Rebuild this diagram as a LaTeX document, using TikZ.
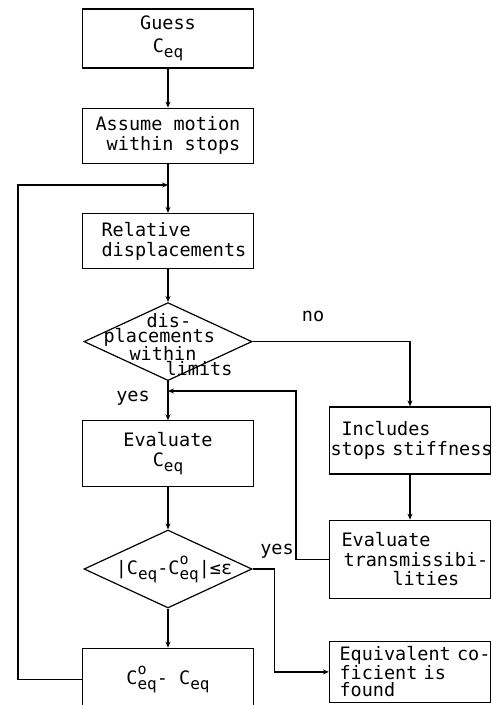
\documentclass[tikz,border=0pt]{standalone}
\usepackage{fontspec}
\setmainfont{DejaVu Sans Mono}
\usetikzlibrary{arrows.meta}
\usetikzlibrary{shapes}
\usetikzlibrary{positioning}

\newcommand\lowsub[1]{\raisebox{-5pt}{\fontsize{16}{16}\selectfont #1}}
\newcommand\highsup[1]{\rlap{\raisebox{10pt}{\fontsize{15}{15}\selectfont #1}}}

\begin{document}
\begin{tikzpicture}[x=1pt,y=-1pt]
  \tikzstyle{every path}=[line width=1.2pt]

  \edef\boxwidth{171pt}
  \edef\sidewidth{155pt}
  \tikzstyle{typed}=[font=\fontsize{18.5}{20}\selectfont]
  \tikzstyle{stepbox}=[typed,draw,rectangle,minimum width=\boxwidth,align=center]
  \tikzstyle{sidebox}=[typed,draw,rectangle,text width=\sidewidth,inner xsep=3pt,align=left]
  \tikzstyle{decision}=[draw,diamond,inner sep=0pt,minimum width=168pt,minimum height=78pt]
  \tikzstyle{flow}=[-{Stealth[length=6pt,width=5pt]}]

  \useasboundingbox (0,0) rectangle (492,705);

  % main column
  \node [stepbox,minimum height=59pt,font=\fontsize{18.5}{23}\selectfont] at (168,38.5) (guess) {Guess\\C\lowsub{eq}};
  \node [stepbox,minimum height=55pt,align=right,below=39pt of guess] (assume) {Assume motion\\within stops};
  \node [stepbox,minimum height=55pt,align=left,below=49pt of assume] (reldisp) {\hspace*{12pt}Relative\\\hspace*{12pt}displacements};
  \node [decision,below=33pt of reldisp] (limits) {};
  \node [stepbox,minimum height=66pt,below=39pt of limits] (evalceq) {Evaluate\\C\lowsub{eq}};
  \node [decision,below=42pt of evalceq] (conv) {};
  \node [stepbox,minimum height=62pt,below=39pt of conv] (update) {C\highsup{o}\lowsub{eq}- C\lowsub{eq}};

  \node [typed,font=\fontsize{18.5}{15}\selectfont,align=left,anchor=west,inner sep=0pt] at ([xshift=-65pt,yshift=-3pt]limits.center) (limitstxt)
        {\hspace*{43pt}dis-\\placements\\\hspace*{26pt}within\\\hspace*{62pt}limits};
  \node [typed,inner sep=0pt] at ([xshift=6pt]conv.center) (convtxt)
        {|C\lowsub{eq}-C\highsup{o}\lowsub{eq}|≤ε};

  % side column
  \node [sidebox,minimum height=67pt] at (410,440.5) (includes)
        {\mbox{\hspace*{9pt}Includes}\\\mbox{\hspace*{-2pt}stops stiffness}};
  \node [sidebox,minimum height=78pt,font=\fontsize{18.5}{19.5}\selectfont,below=45pt of includes] (evaltrans)
        {\mbox{\hspace*{9pt}Evaluate}\\\mbox{\hspace*{11pt}transmissibi-}\\\mbox{\hspace*{60pt}lities}};
  \node [sidebox,minimum height=61pt,font=\fontsize{18.5}{17}\selectfont,below=42pt of evaltrans] (found)
        {\mbox{\hspace*{7pt}Equivalent co-}\\\mbox{\hspace*{7pt}ficient is}\\\mbox{\hspace*{7pt}found}};

  \node [typed] at (313,316) (nolabel) {no};
  \node [typed] at (133,398) (yeslabel) {yes};
  \node [typed] at (277,551) (yesconv) {yes};

  \coordinate (loopin) at (168,185);
  \coordinate (yesin) at (168,391);

  \draw [flow] (guess) -- (assume);
  \draw [flow] (assume) -- (reldisp);
  \draw [flow] (reldisp) -- (limits);
  \draw [flow] (limits) -- (evalceq);
  \draw [flow] (evalceq) -- (conv);
  \draw [flow] (conv) -- (update);
  \draw [flow] (limits.east) -| (includes.north);
  \draw [flow] (includes) -- (evaltrans);
  \draw [flow] (evaltrans.west) -- ++(-33,0) |- (yesin);
  \draw [flow] (conv.east) -- ++(22,0) |- (found.west);
  \draw [flow] (update.west) -- ++(-64,0) |- (loopin);
\end{tikzpicture}
\end{document}
